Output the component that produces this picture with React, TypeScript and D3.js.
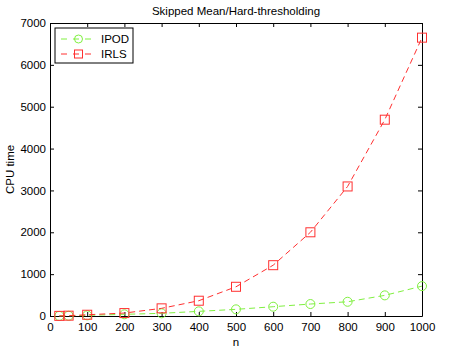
import React, { useRef, useEffect } from 'react';
import * as d3 from 'd3';

const nValues = [25, 50, 100, 200, 300, 400, 500, 600, 700, 800, 900, 1000];
const ipodTime = [2, 5, 15, 40, 64, 111, 159, 222, 286, 340, 493, 714];
const irlsTime = [3, 8, 30, 70, 183, 365, 698, 1214, 2000, 3095, 4690, 6650];
const xTicks = [0, 100, 200, 300, 400, 500, 600, 700, 800, 900, 1000];
const yTicks = [0, 1000, 2000, 3000, 4000, 5000, 6000, 7000];

const GREEN = '#80f040';
const RED = '#ff3030';
const FONT = 'Liberation Sans, Arial, sans-serif';

const App = () => {
  const svgRef = useRef<SVGSVGElement>(null);

  useEffect(() => {
    const svg = d3.select(svgRef.current);
    svg.selectAll('*').remove();

    const margin = { top: 23, right: 35, bottom: 34, left: 50 };
    const width = 457, height = 350;
    const innerWidth = width - margin.left - margin.right;
    const innerHeight = height - margin.top - margin.bottom;

    const g = svg.append('g').attr('transform', `translate(${margin.left},${margin.top})`);

    const x = d3.scaleLinear().domain([0, 1000]).range([0, innerWidth]);
    const y = d3.scaleLinear().domain([0, 7000]).range([innerHeight, 0]);
    const fmt = d3.format('d');

    // bottom / left axes with inward ticks
    const xAxis = g.append('g')
      .attr('transform', `translate(0,${innerHeight})`)
      .call(d3.axisBottom(x).tickValues(xTicks).tickFormat(fmt).tickSizeInner(-4).tickSizeOuter(0).tickPadding(7));
    const yAxis = g.append('g')
      .call(d3.axisLeft(y).tickValues(yTicks).tickFormat(fmt).tickSizeInner(-4).tickSizeOuter(0).tickPadding(4));
    // top / right for the box
    const xTop = g.append('g')
      .call(d3.axisTop(x).tickValues(xTicks).tickSizeInner(-4).tickSizeOuter(0).tickFormat(() => ''));
    const yRight = g.append('g')
      .attr('transform', `translate(${innerWidth},0)`)
      .call(d3.axisRight(y).tickValues(yTicks).tickSizeInner(-4).tickSizeOuter(0).tickFormat(() => ''));

    [xAxis, yAxis, xTop, yRight].forEach(a => {
      a.selectAll('text').attr('font-family', FONT).attr('font-size', 11.5).attr('fill', '#000');
      a.selectAll('line').attr('stroke', '#000');
      a.select('.domain').attr('stroke', '#000');
    });

    const line = d3.line<number>()
      .x((_, i) => x(nValues[i]))
      .y(d => y(d));

    // IPOD
    g.append('path')
      .datum(ipodTime)
      .attr('fill', 'none')
      .attr('stroke', GREEN)
      .attr('stroke-width', 1)
      .attr('stroke-dasharray', '6,4')
      .attr('d', line);
    g.selectAll('.ipod')
      .data(ipodTime)
      .enter().append('circle')
      .attr('cx', (_, i) => x(nValues[i]))
      .attr('cy', d => y(d))
      .attr('r', 4.5)
      .attr('fill', 'none')
      .attr('stroke', GREEN);

    // IRLS
    g.append('path')
      .datum(irlsTime)
      .attr('fill', 'none')
      .attr('stroke', RED)
      .attr('stroke-width', 1)
      .attr('stroke-dasharray', '6,4')
      .attr('d', line);
    g.selectAll('.irls')
      .data(irlsTime)
      .enter().append('rect')
      .attr('x', (_, i) => x(nValues[i]) - 4.5)
      .attr('y', d => y(d) - 4.5)
      .attr('width', 9)
      .attr('height', 9)
      .attr('fill', 'none')
      .attr('stroke', RED);

    // title & labels
    svg.append('text')
      .attr('x', margin.left + innerWidth / 2)
      .attr('y', 15)
      .attr('text-anchor', 'middle')
      .attr('font-family', FONT)
      .attr('font-size', 11.5)
      .text('Skipped Mean/Hard-thresholding');
    svg.append('text')
      .attr('x', margin.left + innerWidth / 2)
      .attr('y', 346)
      .attr('text-anchor', 'middle')
      .attr('font-family', FONT)
      .attr('font-size', 11.5)
      .text('n');
    svg.append('text')
      .attr('transform', `translate(14,${margin.top + innerHeight / 2}) rotate(-90)`)
      .attr('text-anchor', 'middle')
      .attr('font-family', FONT)
      .attr('font-size', 11.5)
      .text('CPU time');

    // legend
    const legend = svg.append('g').attr('transform', 'translate(55,28)');
    legend.append('rect')
      .attr('width', 78).attr('height', 35)
      .attr('fill', '#fff').attr('stroke', '#000');
    const items = [
      { label: 'IPOD', color: GREEN, shape: 'circle' },
      { label: 'IRLS', color: RED, shape: 'square' },
    ];
    items.forEach((it, i) => {
      const cy = 11 + i * 15;
      legend.append('line')
        .attr('x1', 6).attr('x2', 41).attr('y1', cy).attr('y2', cy)
        .attr('stroke', it.color).attr('stroke-dasharray', '6,6');
      if (it.shape === 'circle') {
        legend.append('circle').attr('cx', 23.5).attr('cy', cy).attr('r', 4)
          .attr('fill', 'none').attr('stroke', it.color);
      } else {
        legend.append('rect').attr('x', 19.5).attr('y', cy - 4).attr('width', 8).attr('height', 8)
          .attr('fill', 'none').attr('stroke', it.color);
      }
      legend.append('text')
        .attr('x', 46).attr('y', cy + 4)
        .attr('font-family', FONT).attr('font-size', 11.5)
        .text(it.label);
    });
  }, []);

  return (
    <svg ref={svgRef} width={457} height={350} style={{ position: 'absolute', left: 0, top: 0, background: '#fff' }} />
  );
};

export default App;
